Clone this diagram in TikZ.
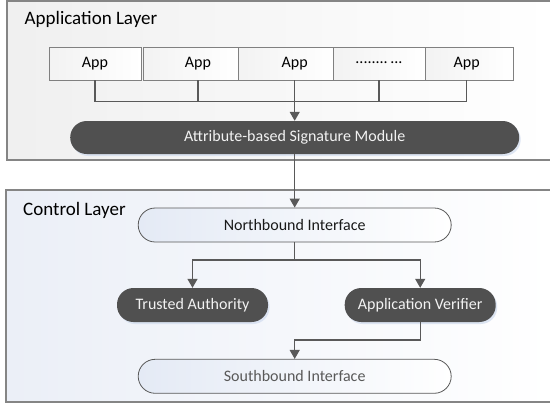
\documentclass[tikz,border=0pt]{standalone}
\usepackage{fontspec}
\setmainfont{Carlito}
\usetikzlibrary{arrows.meta,shadows,calc}
\definecolor{linec}{HTML}{595959}
\definecolor{darkfill}{HTML}{505050}
\definecolor{layerb}{HTML}{858585}
\definecolor{bluish}{HTML}{E4EAF5}
\definecolor{layerblue}{HTML}{EBEFF7}
\definecolor{shadowc}{HTML}{D5DFF0}
\begin{document}
\begin{tikzpicture}[x=1pt,y=-1pt,
 hgrad/.style={left color=#1,right color=white},
 layer/.style={draw=layerb,line width=1.3pt},
 layerlbl/.style={anchor=base west,inner sep=0pt,font=\fontsize{19}{23}\selectfont},
 appbox/.style={draw=black!50,line width=0.9pt,minimum height=32.5pt,inner sep=0pt,
   font=\fontsize{16}{19}\selectfont,hgrad=black!5},
 darkpill/.style={fill=darkfill,draw=none,rounded corners=16.5pt,minimum height=33pt,
   inner sep=0pt,text={black!5},font=\fontsize{16}{19}\selectfont,
   drop shadow={shadow xshift=1.5pt,shadow yshift=-2pt,fill=shadowc,opacity=0.8}},
 lightpill/.style={draw=linec,line width=0.8pt,rounded corners=17pt,minimum height=34pt,
   inner sep=0pt,hgrad=bluish,font=\fontsize{16}{19}\selectfont},
 conn/.style={draw=linec,line width=1.3pt},
 arr/.style={conn,-{Triangle[width=10pt,length=9pt]}}
]
\useasboundingbox (0,0) rectangle (550,408);
% layers
\path[layer,hgrad=black!6] (7,1) rectangle (553,160);
\path[layer,hgrad=layerblue] (6,190) rectangle (553,402);
\node[layerlbl] (applbl) at (24.5,24) {Application Layer};
\node[layerlbl] (ctrllbl) at (23,215) {Control Layer};
% apps
\node[appbox,minimum width=92pt] (a1) at (95,63.75) {App};
\node[appbox,minimum width=95pt] (a2) at (190.5,63.75) {\hspace*{15pt}App};
\node[appbox,minimum width=95pt] (a3) at (285.5,63.75) {\hspace*{18.4pt}App};
\node[appbox,minimum width=92pt] (a4) at (379,63.75) {\raisebox{2.5pt}{........\,...}};
\node[appbox,minimum width=88pt] (a5) at (469,63.75) {App\hspace*{4.6pt}};
% module
\node[darkpill,minimum width=449pt] (abs) at (294.7,137.5) {Attribute-based Signature Module};
% bus
\coordinate (busy) at (0,101.7);
\draw[conn] (a1.south) -- (a1.south |- busy) -- ([xshift=-2.3pt]a5.south |- busy) -- ([xshift=-2.3pt]a5.south);
\draw[conn] ([xshift=7.5pt]a2.south) -- ([xshift=7.5pt]a2.south |- busy);
\draw[conn] (a4.south) -- (a4.south |- busy);
\draw[arr] ([xshift=9.2pt]a3.south) -- (abs);
% control layer
\node[lightpill,minimum width=313pt,text=black!90] (nb) at (294.7,225) {Northbound Interface};
\draw[arr] (abs) -- (nb);
\node[darkpill,minimum width=151pt,minimum height=34pt] (ta) at (192.5,305) {Trusted Authority};
\node[darkpill,minimum width=151pt,minimum height=34pt] (av) at (420.2,305) {Application Verifier};
\draw[arr] (nb.south) -- ++(0,17.5) -| (ta.north);
\draw[arr] (nb.south) -- ++(0,17.5) -| (av.north);
\node[lightpill,minimum width=313pt,text=linec] (sb) at (294.7,376.3) {Southbound Interface};
\draw[arr] (av.south) -- ++(0,17.8) -| (sb.north);
\end{tikzpicture}
\end{document}
